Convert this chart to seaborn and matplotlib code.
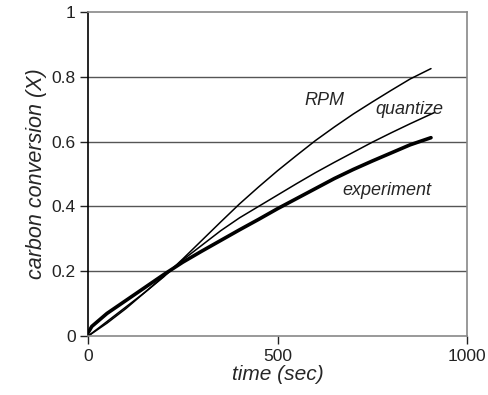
import matplotlib
matplotlib.use("Agg")
import matplotlib.pyplot as plt
import seaborn as sns
import pandas as pd

# time (sec) and carbon conversion values
t_exp = [0, 10, 20, 50, 100, 150, 200, 250, 300, 350, 400, 450, 500, 550, 600, 650, 700, 750, 800, 850, 905]
x_exp = [0.01, 0.03, 0.04, 0.07, 0.11, 0.15, 0.19, 0.228, 0.262, 0.295, 0.328, 0.36, 0.393, 0.424, 0.455, 0.486, 0.514, 0.54, 0.565, 0.59, 0.612]

t_quant = [0, 50, 100, 150, 200, 250, 300, 350, 400, 450, 500, 550, 600, 650, 700, 750, 800, 850, 915]
x_quant = [0.0, 0.04, 0.085, 0.135, 0.185, 0.235, 0.28, 0.325, 0.365, 0.40, 0.435, 0.47, 0.504, 0.536, 0.567, 0.598, 0.627, 0.655, 0.69]

t_rpm = [0, 50, 100, 150, 200, 250, 300, 350, 400, 450, 500, 550, 600, 650, 700, 750, 800, 850, 905]
x_rpm = [0.0, 0.045, 0.09, 0.135, 0.183, 0.238, 0.295, 0.352, 0.408, 0.46, 0.51, 0.557, 0.603, 0.645, 0.685, 0.722, 0.758, 0.793, 0.825]

x_ticks = [0, 500, 1000]
y_ticks = [0, 0.2, 0.4, 0.6, 0.8, 1]
y_tick_labels = ["0", "0.2", "0.4", "0.6", "0.8", "1"]

sns.set_theme(style="white")
plt.rcParams['font.family'] = ['Liberation Sans', 'DejaVu Sans']

fig = plt.figure(figsize=(4.89, 3.95), dpi=100)
ax = fig.add_axes([0.18, 0.149, 0.775, 0.821])

df_exp = pd.DataFrame({"t": t_exp, "X": x_exp})
df_q = pd.DataFrame({"t": t_quant, "X": x_quant})
df_r = pd.DataFrame({"t": t_rpm, "X": x_rpm})

for yv in y_ticks[1:-1]:
    ax.axhline(yv, color="#555555", lw=1.0, zorder=0)

sns.lineplot(data=df_r, x="t", y="X", ax=ax, color="black", lw=1.1)
sns.lineplot(data=df_q, x="t", y="X", ax=ax, color="black", lw=1.1)
sns.lineplot(data=df_exp, x="t", y="X", ax=ax, color="black", lw=2.6)

ax.set_xlim(0, 1000)
ax.set_ylim(0, 1)
ax.set_xticks(x_ticks)
ax.set_xticklabels([str(v) for v in x_ticks])
ax.set_yticks(y_ticks)
ax.set_yticklabels(y_tick_labels)
ax.tick_params(axis="both", labelsize=12.5, colors="#222222", length=6, width=1, direction="out",
               left=True, bottom=True, pad=3)
ax.set_xlabel("time (sec)", fontsize=15, style="italic", labelpad=1)
ax.set_ylabel("carbon conversion (X)", fontsize=15.5, style="italic", labelpad=3)

for side in ["top", "right", "bottom"]:
    ax.spines[side].set_color("#888888")
    ax.spines[side].set_linewidth(1.2)
ax.spines["left"].set_color("black")
ax.spines["left"].set_linewidth(1.2)

ax.text(625, 0.728, "RPM", fontsize=13, style="italic", ha="center", va="center")
ax.text(847, 0.698, "quantize", fontsize=13, style="italic", ha="center", va="center")
ax.text(789, 0.45, "experiment", fontsize=13, style="italic", ha="center", va="center")

fig.savefig("out.png", dpi=100)
